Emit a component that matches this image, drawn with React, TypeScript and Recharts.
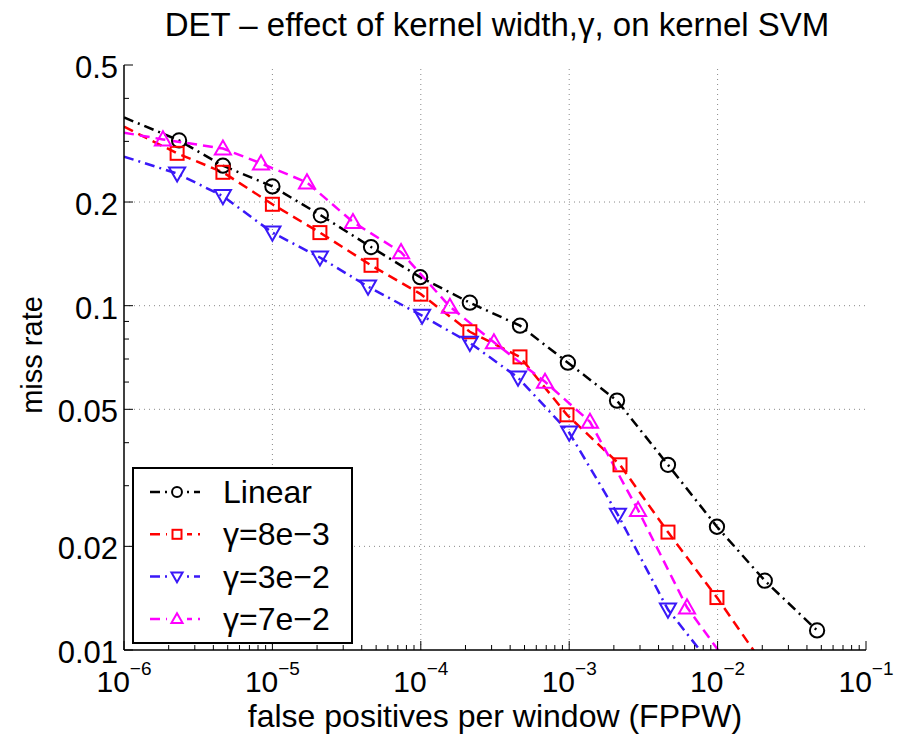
import { LineChart, Line, XAxis, YAxis, ReferenceLine, Legend } from 'recharts';

const FONT = '"Liberation Sans", Arial, Helvetica, sans-serif';

// axis ticks
const xMajorTicks = [1e-6, 1e-5, 1e-4, 1e-3, 1e-2, 1e-1];
const xTickExponents = ['−6', '−5', '−4', '−3', '−2', '−1'];
const yMajorTicks = [0.01, 0.02, 0.05, 0.1, 0.2, 0.5];
const yTickLabels = ['0.01', '0.02', '0.05', '0.1', '0.2', '0.5'];
const yMinorTicks = [0.03, 0.04, 0.06, 0.07, 0.08, 0.09, 0.3, 0.4];

// series values (first point = where the line enters at the left axis, last colored points run below 0.01)
const linearFppw = [1e-6, 2.35e-6, 4.64e-6, 1.0e-5, 2.12e-5, 4.62e-5, 9.9e-5, 2.14e-4, 4.66e-4, 9.8e-4, 2.1e-3, 4.63e-3, 9.9e-3, 2.08e-2, 4.68e-2];
const linearMiss = [0.352, 0.302, 0.255, 0.222, 0.183, 0.148, 0.121, 0.102, 0.0875, 0.0683, 0.053, 0.0345, 0.0228, 0.0159, 0.0114];

const g8Fppw = [1e-6, 2.28e-6, 4.64e-6, 1e-5, 2.09e-5, 4.62e-5, 1e-4, 2.14e-4, 4.66e-4, 9.66e-4, 2.2e-3, 4.63e-3, 9.9e-3, 2.1e-2];
const g8Miss = [0.331, 0.277, 0.244, 0.197, 0.163, 0.131, 0.108, 0.084, 0.071, 0.0482, 0.0345, 0.022, 0.0142, 0.0089];

const g3Fppw = [1e-6, 2.28e-6, 4.64e-6, 1e-5, 2.09e-5, 4.41e-5, 1.02e-4, 2.14e-4, 4.52e-4, 1.0e-3, 2.13e-3, 4.63e-3, 1e-2];
const g3Miss = [0.271, 0.242, 0.208, 0.163, 0.138, 0.1136, 0.0935, 0.078, 0.0618, 0.0428, 0.0247, 0.0131, 0.0086];

const g7Fppw = [1e-6, 1.83e-6, 4.64e-6, 8.38e-6, 1.71e-5, 3.49e-5, 7.36e-5, 1.57e-4, 3.11e-4, 6.87e-4, 1.38e-3, 2.91e-3, 6.22e-3, 1.3e-2];
const g7Miss = [0.318, 0.304, 0.286, 0.259, 0.228, 0.175, 0.143, 0.0993, 0.0783, 0.0601, 0.046, 0.0255, 0.0133, 0.0086];

const xMinorTicks = xMajorTicks.slice(0, -1).flatMap((d) => [2, 3, 4, 5, 6, 7, 8, 9].map((k) => k * d));
const xAllTicks = [...xMajorTicks, ...xMinorTicks];
const yAllTicks = [...yMajorTicks, ...yMinorTicks];

const toPoints = (xs: number[], ys: number[]) => xs.map((x, i) => ({ x, y: ys[i] }));

const series = [
  { name: 'Linear', color: '#000000', dash: '10 5 2 5', shape: 'circle', data: toPoints(linearFppw, linearMiss) },
  { name: 'γ=8e−3', color: '#ff0000', dash: '10 6', shape: 'square', data: toPoints(g8Fppw, g8Miss) },
  { name: 'γ=3e−2', color: '#3a18f8', dash: '10 5 2 5', shape: 'down', data: toPoints(g3Fppw, g3Miss) },
  { name: 'γ=7e−2', color: '#ff00ff', dash: '10 6', shape: 'up', data: toPoints(g7Fppw, g7Miss) },
];

function Marker({ shape, cx, cy, color, s }: { shape: string; cx: number; cy: number; color: string; s: number }) {
  const common = { fill: 'none', stroke: color, strokeWidth: 2 };
  if (shape === 'circle') return <circle cx={cx} cy={cy} r={s * 0.55} {...common} />;
  if (shape === 'square') return <rect x={cx - s / 2} y={cy - s / 2} width={s} height={s} {...common} />;
  const h = s * 0.62;
  if (shape === 'down')
    return <polygon points={`${cx - h},${cy - h * 0.75} ${cx + h},${cy - h * 0.75} ${cx},${cy + h}`} {...common} />;
  return <polygon points={`${cx - h},${cy + h * 0.75} ${cx + h},${cy + h * 0.75} ${cx},${cy - h}`} {...common} />;
}

const makeDot = (shape: string, color: string) => (props: any) => {
  const { cx, cy, payload, index } = props;
  if (payload.x <= xMajorTicks[0] || payload.y < yMajorTicks[0]) return <g key={index} />;
  return <Marker key={index} shape={shape} cx={cx} cy={cy} color={color} s={13} />;
};

function BottomTick({ x, y, payload }: any) {
  const i = xMajorTicks.indexOf(payload.value);
  return (
    <g>
      <line x1={x} x2={x} y1={y} y2={y - (i >= 0 ? 9 : 5)} stroke="#000" strokeWidth={1} />
      {i >= 0 && (
        <text x={x} y={y + 42} textAnchor="middle" fontFamily={FONT} fontSize={30} fill="#000">
          <tspan>10</tspan>
          <tspan dy={-17} fontSize={19}>{xTickExponents[i]}</tspan>
        </text>
      )}
    </g>
  );
}

function TopTick({ x, y, payload }: any) {
  const major = xMajorTicks.includes(payload.value);
  return <line x1={x} x2={x} y1={y} y2={y + (major ? 9 : 5)} stroke="#000" strokeWidth={1} />;
}

function LeftTick({ x, y, payload }: any) {
  const i = yMajorTicks.indexOf(payload.value);
  return (
    <g>
      <line x1={x} x2={x + (i >= 0 ? 9 : 5)} y1={y} y2={y} stroke="#000" strokeWidth={1} />
      {i >= 0 && (
        <text x={x - 6} y={y + 13} textAnchor="end" fontFamily={FONT} fontSize={31} fill="#000">
          {yTickLabels[i]}
        </text>
      )}
    </g>
  );
}

function RightTick({ x, y, payload }: any) {
  const major = yMajorTicks.includes(payload.value);
  return <line x1={x} x2={x - (major ? 9 : 5)} y1={y} y2={y} stroke="#000" strokeWidth={1} />;
}

function LegendBox() {
  return (
    <svg width={222} height={178} style={{ display: 'block' }}>
      <rect x={1} y={1} width={219} height={175} fill="#fff" stroke="#000" strokeWidth={2} />
      {series.map((s, i) => {
        const cy = 25 + i * 42.3;
        return (
          <g key={s.name}>
            <line x1={18} x2={68} y1={cy} y2={cy} stroke={s.color} strokeWidth={2.5} strokeDasharray={s.dash} />
            <rect x={35} y={cy - 7} width={20} height={14} fill="#fff" />
            <Marker shape={s.shape} cx={45} cy={cy} color={s.color} s={9} />
            <text x={91} y={cy + 11} fontFamily={FONT} fontSize={32} fill="#000">
              {s.name}
            </text>
          </g>
        );
      })}
    </svg>
  );
}

const axisLine = { stroke: '#000', strokeWidth: 1.5 };

export default function App() {
  return (
    <div style={{ position: 'absolute', left: 0, top: 0, background: '#fff' }}>
      <LineChart width={897} height={734} margin={{ top: 65, right: 31, left: 0, bottom: 0 }}>
        <XAxis
          dataKey="x"
          type="number"
          scale="log"
          domain={[1e-6, 1e-1]}
          ticks={xAllTicks}
          interval={0}
          tickSize={0}
          tickMargin={0}
          tickLine={false}
          tick={<BottomTick />}
          axisLine={axisLine}
          height={84}
          allowDataOverflow
        />
        <XAxis
          xAxisId="top"
          orientation="top"
          type="number"
          scale="log"
          domain={[1e-6, 1e-1]}
          ticks={xAllTicks}
          interval={0}
          tickSize={0}
          tickMargin={0}
          tickLine={false}
          tick={<TopTick />}
          axisLine={axisLine}
          height={0}
          allowDataOverflow
        />
        <YAxis
          type="number"
          scale="log"
          domain={[0.01, 0.5]}
          ticks={yAllTicks}
          interval={0}
          tickSize={0}
          tickMargin={0}
          tickLine={false}
          tick={<LeftTick />}
          axisLine={axisLine}
          width={124}
          allowDataOverflow
        />
        <YAxis
          yAxisId="right"
          orientation="right"
          type="number"
          scale="log"
          domain={[0.01, 0.5]}
          ticks={yAllTicks}
          interval={0}
          tickSize={0}
          tickMargin={0}
          tickLine={false}
          tick={<RightTick />}
          axisLine={axisLine}
          width={0}
          allowDataOverflow
        />
        {xMajorTicks.slice(1, -1).map((v) => (
          <ReferenceLine key={'gx' + v} x={v} stroke="#888" strokeWidth={1} strokeDasharray="1 4" />
        ))}
        {yMajorTicks.slice(1, -1).map((v) => (
          <ReferenceLine key={'gy' + v} y={v} stroke="#888" strokeWidth={1} strokeDasharray="1 4" />
        ))}
        {series.map((s) => (
          <Line
            key={s.name}
            data={s.data}
            dataKey="y"
            name={s.name}
            type="linear"
            stroke={s.color}
            strokeWidth={2.5}
            strokeDasharray={s.dash}
            dot={makeDot(s.shape, s.color)}
            activeDot={false}
            isAnimationActive={false}
          />
        ))}
        <Legend
          layout="vertical"
          align="center"
          verticalAlign="middle"
          content={<LegendBox />}
          wrapperStyle={{ left: 132, top: 467, width: 222, height: 178 }}
        />
        <text x={497} y={36} textAnchor="middle" fontFamily={FONT} fontSize={33} fill="#000">
          DET – effect of kernel width,γ, on kernel SVM
        </text>
        <text
          x={42}
          y={355}
          textAnchor="middle"
          fontFamily={FONT}
          fontSize={29}
          fill="#000"
          transform="rotate(-90 42 355)"
        >
          miss rate
        </text>
        <text x={495} y={727} textAnchor="middle" fontFamily={FONT} fontSize={32} fill="#000">
          false positives per window (FPPW)
        </text>
      </LineChart>
    </div>
  );
}
